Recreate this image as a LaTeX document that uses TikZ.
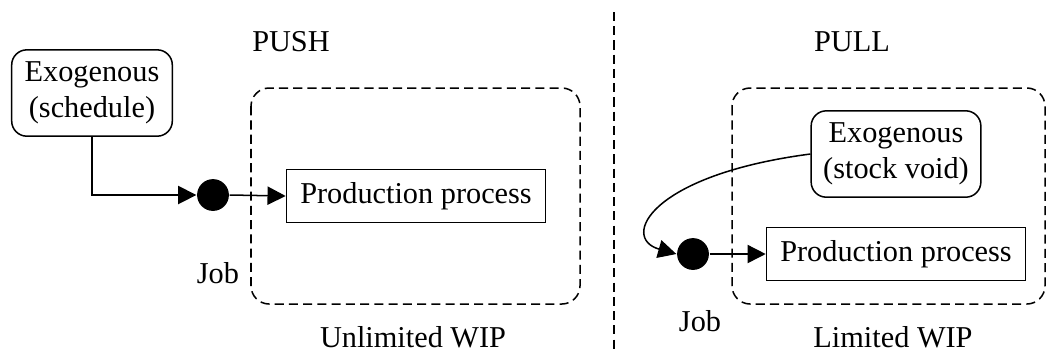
\documentclass[tikz,border=0pt]{standalone}
\usepackage{fontspec}
\setmainfont{Liberation Serif}
\usetikzlibrary{arrows.meta}
\tikzset{
  exo/.style={draw, rounded corners=5pt, align=center, minimum width=53pt, minimum height=28.5pt, inner sep=1pt},
  proc/.style={draw, minimum width=85.5pt, minimum height=17.5pt, inner sep=1pt},
  jobdot/.style={circle, fill=black, minimum size=10.5pt, inner sep=0pt},
  wip/.style={dash pattern=on 3pt off 1.7pt, rounded corners=6pt},
  flow/.style={-{Triangle[length=6pt,width=6pt]}},
}
\begin{document}
\begin{tikzpicture}[x=0.33pt, y=-0.33pt, line width=0.5pt]
\useasboundingbox (0,0) rectangle (1047,352);
% push side
\draw[wip] (251,88) rectangle (580,304);
\node (pushT) at (291,42) {PUSH};
\node[exo] (exoL) at (92,93) {Exogenous\\(schedule)};
\node[jobdot] (jobL) at (213,195) {};
\node[proc] (procL) at (416,196) {Production process};
\node (jobLT) at (218,273) {Job};
\node (wipL) at (413,337) {Unlimited WIP};
\draw[flow] (exoL.south) |- (jobL.west);
\draw[flow] (jobL.east) -- (procL.west);
% divider
\coordinate (divT) at (614,12);
\coordinate (divB) at (614,352);
\draw[dash pattern=on 3pt off 1.7pt] (divT) -- (divB);
% pull side
\draw[wip] (732,88) rectangle (1045,304);
\node (pullT) at (852,42) {PULL};
\node[exo, minimum width=56pt] (exoR) at (896,154) {Exogenous\\(stock void)};
\node[jobdot] (jobR) at (693,254) {};
\node[proc] (procR) at (896,254) {Production process};
\node (jobRT) at (700,321) {Job};
\node (wipR) at (893,337) {Limited WIP};
\draw[flow] (exoR.west) .. controls (650,175) and (620,238) .. (jobR.west);
\draw[flow] (jobR.east) -- (procR.west);
\end{tikzpicture}
\end{document}
